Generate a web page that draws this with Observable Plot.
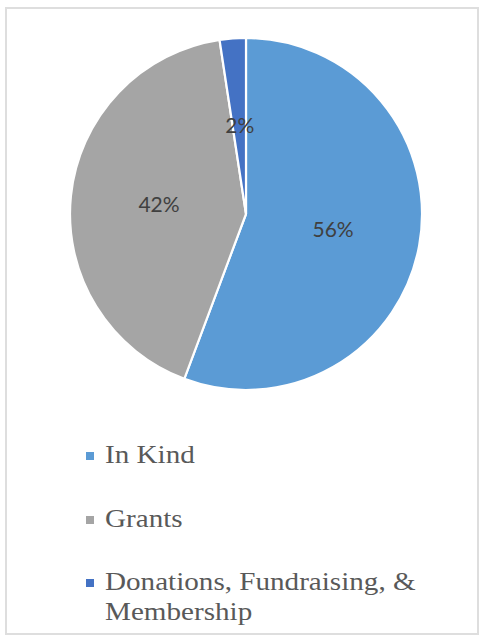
<!DOCTYPE html>
<html><head><meta charset="utf-8">
<script src="https://cdn.jsdelivr.net/npm/d3@7"></script>
<script src="https://cdn.jsdelivr.net/npm/@observablehq/plot@0.6"></script>
<style>
html,body{margin:0;padding:0;background:#fff;width:479px;height:639px;overflow:hidden;}
#frame{position:absolute;left:5px;top:7px;width:474px;height:628px;box-sizing:border-box;border:2px solid #dedede;}
#chart{position:absolute;left:0;top:0;}
#legend{position:absolute;left:0;top:0;width:479px;}
.item{position:absolute;left:86px;height:30px;}
.sw{position:absolute;left:0;top:12px;width:8px;height:8px;}
.lab{position:absolute;left:19px;top:0;width:300px;font-size:26px;line-height:30px;color:#595959;transform:scaleX(1.12);transform-origin:0 0;white-space:normal;}
</style></head><body>
<div id="frame"></div>
<div id="chart"></div>
<div id="legend"></div>
<script>
const categories = ["In Kind", "Grants", "Donations, Fundraising, & Membership"];
const values = [55.7, 41.9, 2.4];
const labels = ["56%", "42%", "2%"];
const colors = ["#5B9BD5", "#A5A5A5", "#4472C4"];

const data = categories.map((c, i) => ({category: c, value: values[i], label: labels[i]}));
const arcs = d3.pie().sort(null).value(d => d.value)(data);
const labelData = arcs.map(a => {
  const m = (a.startAngle + a.endAngle) / 2;
  return {label: a.data.label, x: 0.5 * Math.sin(m), y: 0.5 * Math.cos(m)};
});

function slices(index, scales, values, dimensions, context) {
  const cx = scales.x(0), cy = scales.y(0);
  const r = Math.abs(scales.x(1) - scales.x(0));
  const col = scales.color || d3.scaleOrdinal(categories, colors);
  const g = d3.create("svg:g").attr("transform", `translate(${cx},${cy})`);
  const arc = d3.arc().innerRadius(0).outerRadius(r);
  g.selectAll("path").data(arcs).join("path")
    .attr("d", arc)
    .attr("fill", d => col(d.data.category))
    .attr("stroke", "#fff")
    .attr("stroke-width", 2.2)
    .attr("stroke-linejoin", "round");
  return g.node();
}

const plot = Plot.plot({
  width: 479,
  height: 420,
  margin: 0,
  x: {domain: [-1, 1], range: [70, 422], axis: null},
  y: {domain: [-1, 1], range: [390, 38], axis: null},
  color: {domain: categories, range: colors},
  style: {background: "transparent", overflow: "visible"},
  marks: [
    Plot.dot(data, {x: () => 0, y: () => 0, r: 0, fill: "category"}),
    slices,
    Plot.text(labelData, {x: "x", y: "y", text: "label", fill: "#404040", fontSize: 21, fontFamily: "Lato, sans-serif"})
  ]
});
document.getElementById("chart").appendChild(plot);

const tops = [440, 504, 567];
const legend = document.getElementById("legend");
categories.forEach((c, i) => {
  const it = document.createElement("div");
  it.className = "item";
  it.style.top = tops[i] + "px";
  const sw = document.createElement("div");
  sw.className = "sw";
  sw.style.background = colors[i];
  const lab = document.createElement("div");
  lab.className = "lab";
  lab.style.fontFamily = "'Times New Roman', 'Liberation Serif', Times, 'DejaVu Serif', serif";
  lab.textContent = c;
  it.appendChild(sw);
  it.appendChild(lab);
  legend.appendChild(it);
});
</script>
</body></html>
